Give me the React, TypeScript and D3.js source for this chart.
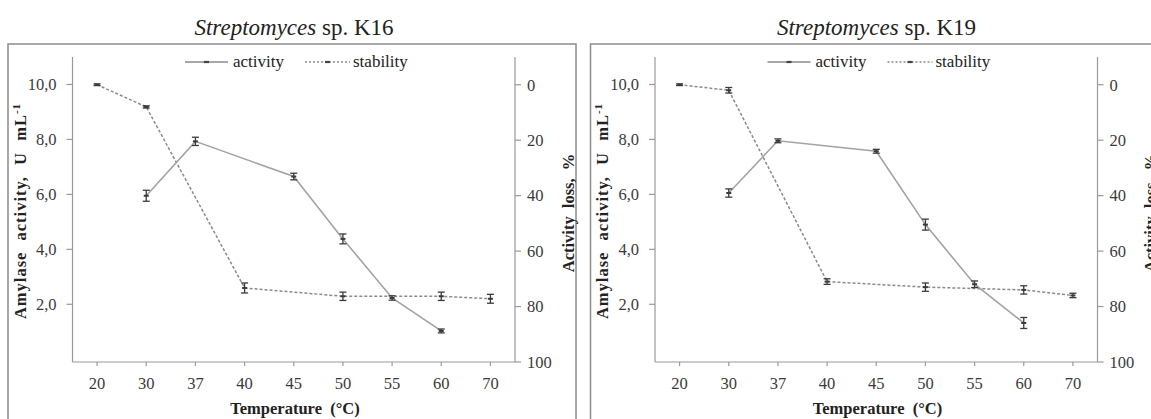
import React from "react";
import * as d3 from "d3";

const categories = ["20", "30", "37", "40", "45", "50", "55", "60", "70"];
const activityTemps = ["30", "37", "45", "50", "55", "60"];
const stabilityTemps = ["20", "30", "40", "50", "60", "70"];
const leftTicks = [2, 4, 6, 8, 10];
const rightTicks = [0, 20, 40, 60, 80, 100];

const k16Activity = [5.95, 7.93, 6.65, 4.38, 2.23, 1.03];
const k16ActivityErr = [0.2, 0.15, 0.12, 0.18, 0.08, 0.07];
const k16Loss = [0, 8, 73.3, 76.3, 76.3, 77.2];
const k16LossErr = [0.3, 0.4, 1.8, 1.5, 1.5, 1.6];

const k19Activity = [6.05, 7.95, 7.57, 4.9, 2.73, 1.32];
const k19ActivityErr = [0.15, 0.07, 0.07, 0.2, 0.12, 0.2];
const k19Loss = [0, 2, 71, 73, 74, 76];
const k19LossErr = [0.3, 1.0, 1.0, 1.5, 1.5, 0.8];

const titles = ["K16", "K19"];

const FONT = "'Liberation Serif', 'Times New Roman', serif";
const AXIS = "#999";
const TEXT = "#3a3a3a";

type PanelProps = {
  ox: number;
  name: string;
  activity: number[];
  activityErr: number[];
  loss: number[];
  lossErr: number[];
};

function Panel({ ox, name, activity, activityErr, loss, lossErr }: PanelProps) {
  const x0 = 72.5, x1 = 515, yTop = 57, yBot = 362;
  const x = d3.scalePoint<string>().domain(categories).range([x0, x1]).padding(0.5);
  const yL = d3.scaleLinear().domain([-0.1, 11]).range([yBot, yTop]);
  const yR = d3.scaleLinear().domain([-10, 100]).range([yTop, yBot]);

  const actPts: [number, number][] = activityTemps.map((t, i) => [x(t)!, yL(activity[i])]);
  const lossPts: [number, number][] = stabilityTemps.map((t, i) => [x(t)!, yR(loss[i])]);
  const line = d3.line();

  const errBar = (cx: number, yA: number, yB: number, key: string) => (
    <g key={key} stroke="#3a3a3a" strokeWidth={1.3}>
      <line x1={cx} x2={cx} y1={yA} y2={yB} />
      <line x1={cx - 3.5} x2={cx + 3.5} y1={yA} y2={yA} />
      <line x1={cx - 3.5} x2={cx + 3.5} y1={yB} y2={yB} />
      <line x1={cx - 2.5} x2={cx + 2.5} y1={(yA + yB) / 2} y2={(yA + yB) / 2} strokeWidth={2} />
    </g>
  );

  return (
    <g transform={`translate(${ox},0)`} fontFamily={FONT}>
      <rect x={8} y={44} width={568} height={420} fill="white" stroke="#8c8c8c" strokeWidth={1.5} />
      <text x={294} y={35} textAnchor="middle" fontSize={23} fill="#222">
        <tspan fontStyle="italic">Streptomyces</tspan>
        <tspan> sp. {name}</tspan>
      </text>

      {/* legend */}
      <g>
        <line x1={185} x2={228} y1={62} y2={62} stroke="#8a8a8a" strokeWidth={1.4} />
        <line x1={204} x2={209} y1={62} y2={62} stroke="#444" strokeWidth={2.2} />
        <text x={233} y={67} fontSize={17} fill="#222">activity</text>
        <line x1={305} x2={350} y1={62} y2={62} stroke="#8a8a8a" strokeWidth={1.4} strokeDasharray="2,2" />
        <line x1={325} x2={330} y1={62} y2={62} stroke="#444" strokeWidth={2.2} />
        <text x={353} y={67} fontSize={17} fill="#222">stability</text>
      </g>

      {/* axes */}
      <line x1={x0} x2={x0} y1={yTop} y2={yBot} stroke={AXIS} strokeWidth={1.2} />
      <line x1={x1} x2={x1} y1={yTop} y2={yBot} stroke={AXIS} strokeWidth={1.2} />
      <line x1={x0} x2={x1} y1={yBot} y2={yBot} stroke={AXIS} strokeWidth={1.2} />
      {leftTicks.map((t) => (
        <g key={"l" + t}>
          <line x1={x0 - 6} x2={x0} y1={yL(t)} y2={yL(t)} stroke={AXIS} strokeWidth={1.2} />
          <text x={x0 - 16} y={yL(t)} dy="0.35em" textAnchor="end" fontSize={16.5} fill={TEXT}>
            {d3.format(".1f")(t).replace(".", ",")}
          </text>
        </g>
      ))}
      {rightTicks.map((t) => (
        <g key={"r" + t}>
          <line x1={x1} x2={x1 + 6} y1={yR(t)} y2={yR(t)} stroke={AXIS} strokeWidth={1.2} />
          <text x={x1 + 12} y={yR(t)} dy="0.35em" textAnchor="start" fontSize={16.5} fill={TEXT}>
            {t}
          </text>
        </g>
      ))}
      {categories.map((c) => (
        <g key={"x" + c}>
          <line x1={x(c)!} x2={x(c)!} y1={yBot} y2={yBot + 4} stroke={AXIS} strokeWidth={1.2} />
          <text x={x(c)!} y={389} textAnchor="middle" fontSize={16.5} fill={TEXT}>{c}</text>
        </g>
      ))}
      <text x={295} y={414} textAnchor="middle" fontSize={16.5} fontWeight="bold" fill="#222" style={{ whiteSpace: "pre" }}>
        {"Temperature  (\u00B0C)"}
      </text>
      <text
        transform={`translate(20,211) rotate(-90)`}
        textAnchor="middle"
        dy="0.35em"
        fontSize={16.5}
        fontWeight="bold"
        fill="#222"
        letterSpacing={1}
        wordSpacing={6}
      >
        Amylase activity, U mL<tspan dy={-6} fontSize={11}>-1</tspan>
      </text>
      <text
        transform={`translate(568,213) rotate(-90)`}
        textAnchor="middle"
        dy="0.35em"
        fontSize={16.5}
        fontWeight="bold"
        fill="#222"
        wordSpacing={4}
      >
        Activity loss, %
      </text>

      {/* series */}
      <path d={line(lossPts) || ""} fill="none" stroke="#8a8a8a" strokeWidth={1.5} strokeDasharray="3,2" />
      <path d={line(actPts) || ""} fill="none" stroke="#a3a3a3" strokeWidth={1.6} />
      {stabilityTemps.map((t, i) =>
        errBar(x(t)!, yR(loss[i] - lossErr[i]), yR(loss[i] + lossErr[i]), "s" + t)
      )}
      {activityTemps.map((t, i) =>
        errBar(x(t)!, yL(activity[i] + activityErr[i]), yL(activity[i] - activityErr[i]), "a" + t)
      )}
    </g>
  );
}

export default function App() {
  return (
    <svg width={1151} height={419} style={{ position: "absolute", left: 0, top: 0, background: "white" }}>
      <rect width={1151} height={419} fill="white" />
      <Panel ox={0} name={titles[0]} activity={k16Activity} activityErr={k16ActivityErr} loss={k16Loss} lossErr={k16LossErr} />
      <Panel ox={582.5} name={titles[1]} activity={k19Activity} activityErr={k19ActivityErr} loss={k19Loss} lossErr={k19LossErr} />
    </svg>
  );
}
